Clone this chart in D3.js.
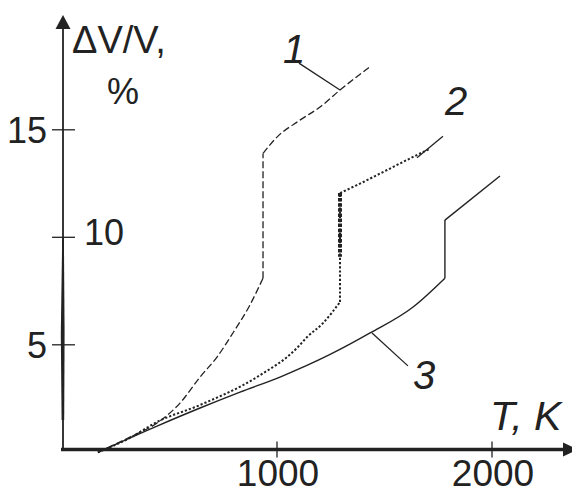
<!DOCTYPE html>
<html>
<head>
<meta charset="utf-8">
<script src="https://cdn.jsdelivr.net/npm/d3@7"></script>
<style>
  body { margin: 0; background: #fff; }
  svg { display: block; font-family: "Liberation Sans", Arial, sans-serif; }
</style>
</head>
<body>
<div id="chart"></div>
<script>
// curve 1 (dashed)
const T1 = [167, 316, 442, 549, 642, 721, 795, 874, 935, 935, 1000, 1107, 1200, 1293, 1428];
const V1 = [0, 0.71, 1.36, 2.29, 3.5, 4.43, 5.55, 6.85, 8.1, 13.9, 14.66, 15.45, 16.06, 16.85, 17.9];
// curve 2 (dotted)
const T2 = [167, 316, 442, 642, 907, 1093, 1140, 1214, 1293, 1293, 1372, 1512, 1633, 1707];
const V2 = [0, 0.67, 1.41, 2.2, 3.5, 4.85, 5.36, 6.01, 6.99, 12.06, 12.43, 13.13, 13.74, 14.1];
// curve 3 (solid)
const T3 = [167, 442, 642, 828, 1014, 1247, 1433, 1633, 1781, 1781, 2037];
const V3 = [0, 1.22, 2.06, 2.8, 3.5, 4.55, 5.55, 6.76, 8.1, 10.8, 12.85];

const xTicks = [1000, 2000];
const yTicks = [5, 10, 15];

// curve labels: text position and leader line (data units)
const labelText = ["1", "2", "3"];
const labelAt = [[1028, 18.1], [1781, 15.69], [1633, 2.94]];
const leaderFrom = [[1102, 18.1], [1772, 14.7], [1442, 5.55]];
const leaderTo = [[1293, 16.85], [1651, 13.7], [1609, 4.02]];

const width = 572, height = 494;

const svg = d3.select("#chart").append("svg")
  .attr("width", width)
  .attr("height", height);

const x = d3.scaleLinear().domain([0, 2000]).range([62, 492]);
const y = d3.scaleLinear().domain([0, 20]).range([452.3, 22.3]);

const ink = "#222";

// axes
const x0 = x(0) + 1, y0 = 449.5;
svg.append("line")
  .attr("x1", x0 - 2).attr("x2", 565)
  .attr("y1", y0).attr("y2", y0)
  .attr("stroke", ink).attr("stroke-width", 3.5);
svg.append("path")
  .attr("d", "M563," + (y0 - 7) + "L578," + y0 + "L563," + (y0 + 7) + "Z")
  .attr("fill", ink);

svg.append("line")
  .attr("x1", x0).attr("x2", x0)
  .attr("y1", y0).attr("y2", 28)
  .attr("stroke", ink).attr("stroke-width", 1.8);
svg.append("path")
  .attr("d", "M" + (x0 - 7.5) + ",29L" + x0 + ",15L" + (x0 + 7.5) + ",29Z")
  .attr("fill", ink);
// the heavier lower stretch of the y axis
svg.append("path")
  .attr("d", "M" + (x0 - 0.8) + "," + y(10) + "L" + (x0 + 0.9) + "," + y(10) +
    "L" + (x0 + 1.6) + "," + y(5.5) + "L" + (x0 + 1.2) + "," + y(1.5) +
    "L" + (x0 - 1.4) + "," + y(1.5) + "L" + (x0 - 2.2) + "," + y(5.5) + "Z")
  .attr("fill", ink);

// ticks
svg.selectAll(".xt").data(xTicks).enter().append("line")
  .attr("x1", d => x(d)).attr("x2", d => x(d))
  .attr("y1", y0 - 8).attr("y2", y0 + 8)
  .attr("stroke", ink).attr("stroke-width", 1.3);
svg.selectAll(".xl").data(xTicks).enter().append("text")
  .attr("x", d => x(d) + 1).attr("y", 486)
  .attr("text-anchor", "middle")
  .style("font-size", "37px").attr("fill", ink)
  .text(d => d);

svg.selectAll(".yt").data(yTicks).enter().append("line")
  .attr("x1", x0 - 11).attr("x2", x0 + 12)
  .attr("y1", d => y(d)).attr("y2", d => y(d))
  .attr("stroke", ink).attr("stroke-width", 1.3);
svg.selectAll(".yl").data(yTicks).enter().append("text")
  .attr("x", d => d === 10 ? x0 + 21 : x0 - 16)
  .attr("y", d => y(d) + (d === 10 ? 8 : 13))
  .attr("text-anchor", d => d === 10 ? "start" : "end")
  .style("font-size", "36px").attr("fill", ink)
  .text(d => d);

// axis titles
svg.append("text").attr("x", 72).attr("y", 53)
  .style("font-size", "38px").attr("fill", ink).text("ΔV/V,");
svg.append("text").attr("x", 107).attr("y", 104)
  .style("font-size", "36px").attr("fill", ink).text("%");
svg.append("text").attr("x", 490).attr("y", 430)
  .style("font-size", "41px").style("font-style", "italic")
  .attr("fill", ink).text("T, K");

// curves: smooth pieces split at the vertical jump, joined by a straight drop
const smooth = d3.line().x(d => x(d[0])).y(d => y(d[1])).curve(d3.curveMonotoneX);
const straight = d3.line().x(d => x(d[0])).y(d => y(d[1]));
function pieces(T, V) {
  const p = T.map((t, i) => [t, V[i]]);
  const j = T.findIndex((t, i) => i > 0 && t === T[i - 1]);
  return { before: p.slice(0, j), jump: [p[j - 1], p[j]], after: p.slice(j) };
}
function drawCurve(T, V, style) {
  const c = pieces(T, V);
  const g = svg.append("g").attr("fill", "none").attr("stroke", ink)
    .attr("stroke-width", style.w)
    .attr("stroke-dasharray", style.dash || null);
  g.append("path").attr("d", smooth(c.before));
  g.append("path").attr("d", straight(c.jump));
  g.append("path").attr("d", smooth(c.after));
  return c;
}

drawCurve(T3, V3, { w: 1.4 });
const c2 = drawCurve(T2, V2, { w: 2, dash: "2.2,2" });
// heavier dotted stretch on the vertical jump of curve 2
svg.append("path").datum([c2.jump[1], [c2.jump[1][0], 9.1]])
  .attr("d", straight).attr("fill", "none")
  .attr("stroke", ink).attr("stroke-width", 4)
  .attr("stroke-dasharray", "3.5,1.6");
drawCurve(T1, V1, { w: 1.3, dash: "7,3" });

// curve labels
svg.selectAll(".ld").data(labelText).enter().append("line")
  .attr("x1", (d, i) => x(leaderFrom[i][0])).attr("y1", (d, i) => y(leaderFrom[i][1]))
  .attr("x2", (d, i) => x(leaderTo[i][0])).attr("y2", (d, i) => y(leaderTo[i][1]))
  .attr("stroke", ink).attr("stroke-width", 1.3);
svg.selectAll(".lb").data(labelText).enter().append("text")
  .attr("x", (d, i) => x(labelAt[i][0])).attr("y", (d, i) => y(labelAt[i][1]))
  .style("font-size", "40px").style("font-style", "italic")
  .attr("fill", ink)
  .text(d => d);
</script>
</body>
</html>
